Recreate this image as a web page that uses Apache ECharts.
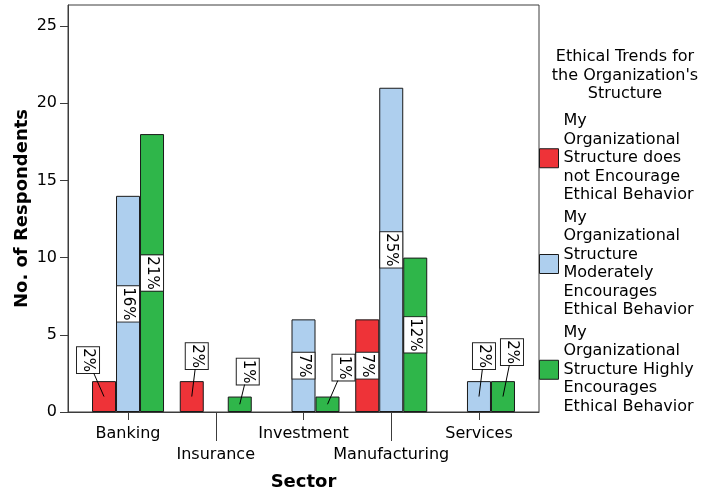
<!DOCTYPE html>
<html>
<head>
<meta charset="utf-8">
<script src="https://cdn.jsdelivr.net/npm/echarts@6/dist/echarts.min.js"></script>
<style>
  html, body { margin: 0; padding: 0; background: #fff; }
  #chart { width: 701px; height: 495px; }
</style>
</head>
<body>
<div id="chart"></div>
<script>
const SECTORS = ['Banking', 'Insurance', 'Investment', 'Manufacturing', 'Services']
const SERIES_NAMES = [
  'My Organizational Structure does not Encourage Ethical Behavior',
  'My Organizational Structure Moderately Encourages Ethical Behavior',
  'My Organizational Structure Highly Encourages Ethical Behavior',
]
const LEGEND_TEXT = [
  'My\nOrganizational\nStructure does\nnot Encourage\nEthical Behavior',
  'My\nOrganizational\nStructure\nModerately\nEncourages\nEthical Behavior',
  'My\nOrganizational\nStructure Highly\nEncourages\nEthical Behavior',
]
const NOT_ENCOURAGE = [2, 2, 0, 6, 0]
const MODERATELY    = [14, 0, 6, 21, 2]
const HIGHLY        = [18, 1, 1, 10, 2]
const Y_TICKS       = [0, 5, 10, 15, 20, 25]
const LEGEND_TITLE  = 'Ethical Trends for\nthe Organization\'s\nStructure'

const COLORS = ['#ee3338', '#aecfee', '#2fb64a']
const FONT = 'DejaVu Sans'
const SERIES_DATA = [NOT_ENCOURAGE, MODERATELY, HIGHLY]
const TOTAL = SERIES_DATA.flat().reduce((s, v) => s + v, 0)
const BAR_W = 24

// label boxes that sit above short bars: [dx from bar centre, dy from bar top]
const LABEL_SHIFT = {
  '0-0': [-16, -21],
  '0-1': [5, -25],
  '2-1': [8, -25],
  '2-2': [16, -29],
  '1-4': [5, -25],
  '2-4': [9, -29],
}
const BOX_HALF = [11, 13]   // half width / half height of a rotated "2%" box

const X_MIN = -0.684, X_MAX = 4.684, Y_MAX = 26.36

const chart = echarts.init(document.getElementById('chart'), null, { renderer: 'canvas' })

const series = SERIES_DATA.map((vals, si) => ({
  type: 'bar',
  name: SERIES_NAMES[si],
  xAxisIndex: 0,
  yAxisIndex: 0,
  barWidth: BAR_W,
  barGap: '0%',
  itemStyle: { color: COLORS[si], borderColor: '#1a1a1a', borderWidth: 1 },
  data: vals.map((v, i) => ({
    value: [i, v],
    itemStyle: { borderWidth: v > 0 ? 1 : 0 },
    label: { show: v > 0, position: LABEL_SHIFT[si + '-' + i] ? 'top' : 'inside' },
  })),
  label: {
    rotate: -90,
    fontFamily: FONT,
    fontSize: 15,
    lineHeight: 18,
    color: '#000',
    backgroundColor: '#fff',
    borderColor: '#222',
    borderWidth: 1,
    padding: [2, 1],
    formatter: p => Math.round(p.value[1] / TOTAL * 100) + '%',
  },
  labelLayout(p) {
    const shift = LABEL_SHIFT[p.seriesIndex + '-' + p.dataIndex]
    if (!shift) return {}
    return {
      x: p.rect.x + p.rect.width / 2 + shift[0],
      y: p.rect.y + shift[1],
      align: 'center',
      verticalAlign: 'middle',
    }
  },
}))

// leader lines from the middle of a short bar to its moved label box
const leaderData = []
SERIES_DATA.forEach((vals, si) => vals.forEach((v, i) => {
  if (v > 0 && LABEL_SHIFT[si + '-' + i]) leaderData.push([i, v, si])
}))

series.push({
  type: 'custom',
  xAxisIndex: 0,
  yAxisIndex: 0,
  silent: true,
  z: 3,
  encode: { x: 0, y: 1 },
  data: leaderData,
  renderItem(params, api) {
    const ci = api.value(0), v = api.value(1), si = api.value(2)
    const shift = LABEL_SHIFT[si + '-' + ci]
    const top = api.coord([ci, v])
    const base = api.coord([ci, 0])
    const cx = top[0] + (si - 1) * BAR_W
    const my = (top[1] + base[1]) / 2
    const bx = cx + shift[0]
    const by = top[1] + shift[1]
    const t = (my - (by + BOX_HALF[1])) / (my - by)
    return {
      type: 'line',
      shape: { x1: cx, y1: my, x2: cx + t * (bx - cx), y2: by + BOX_HALF[1] },
      style: { stroke: '#000', lineWidth: 1 },
    }
  },
})

chart.setOption({
  animation: false,
  backgroundColor: '#fff',
  textStyle: { fontFamily: FONT },
  grid: [
    { left: 68, right: 162, top: 5, bottom: 83, outerBoundsMode: 'none', show: true, borderColor: '#3c3c3c', borderWidth: 1 },
    { left: 68, right: 162, top: 5, bottom: 83, outerBoundsMode: 'none', show: false },
  ],
  xAxis: [
    {
      type: 'value', gridIndex: 0, min: X_MIN, max: X_MAX,
      name: 'Sector', nameLocation: 'middle', nameGap: 61, nameMoveOverlap: false,
      nameTextStyle: { fontFamily: FONT, fontSize: 18, fontWeight: 'bold', color: '#000' },
      axisLine: { onZero: false, lineStyle: { color: '#3c3c3c', width: 1 } },
      axisTick: { length: 8, customValues: [0, 2, 4], lineStyle: { color: '#3c3c3c' } },
      axisLabel: { customValues: [0, 2, 4], margin: 14, fontSize: 16, color: '#000', formatter: v => SECTORS[v] },
      splitLine: { show: false },
    },
    {
      type: 'value', gridIndex: 1, min: X_MIN, max: X_MAX,
      axisLine: { show: false, onZero: false },
      axisTick: { length: 29, customValues: [1, 3], lineStyle: { color: '#3c3c3c' } },
      axisLabel: { customValues: [1, 3], margin: 35, fontSize: 16, color: '#000', formatter: v => SECTORS[v] },
      splitLine: { show: false },
    },
  ],
  yAxis: [
    {
      type: 'value', gridIndex: 0, min: 0, max: Y_MAX,
      name: 'No. of Respondents', nameLocation: 'middle', nameGap: 37, nameMoveOverlap: false,
      nameTextStyle: { fontFamily: FONT, fontSize: 18, fontWeight: 'bold', color: '#000' },
      axisLine: { show: true, onZero: false, lineStyle: { color: '#3c3c3c', width: 1 } },
      axisTick: { show: true, length: 8, customValues: Y_TICKS, lineStyle: { color: '#3c3c3c' } },
      axisLabel: { customValues: Y_TICKS, margin: 11, fontSize: 16, color: '#000' },
      splitLine: { show: false },
    },
    { type: 'value', gridIndex: 1, min: 0, max: Y_MAX, show: false },
  ],
  legend: {
    data: SERIES_NAMES,
    orient: 'vertical',
    left: 539,
    top: 112,
    padding: 0,
    itemWidth: 19,
    itemHeight: 19,
    itemGap: 4,
    icon: 'rect',
    selectedMode: false,
    itemStyle: { borderColor: '#1a1a1a', borderWidth: 1 },
    textStyle: { fontFamily: FONT, fontSize: 16, lineHeight: 18.5, color: '#000' },
    formatter: name => LEGEND_TEXT[SERIES_NAMES.indexOf(name)],
  },
  graphic: [{
    type: 'text',
    x: 625,
    y: 48,
    style: {
      text: LEGEND_TITLE,
      font: '16px "DejaVu Sans"',
      lineHeight: 18.5,
      align: 'center',
      verticalAlign: 'top',
      fill: '#000',
    },
  }],
  series,
})
</script>
</body>
</html>
